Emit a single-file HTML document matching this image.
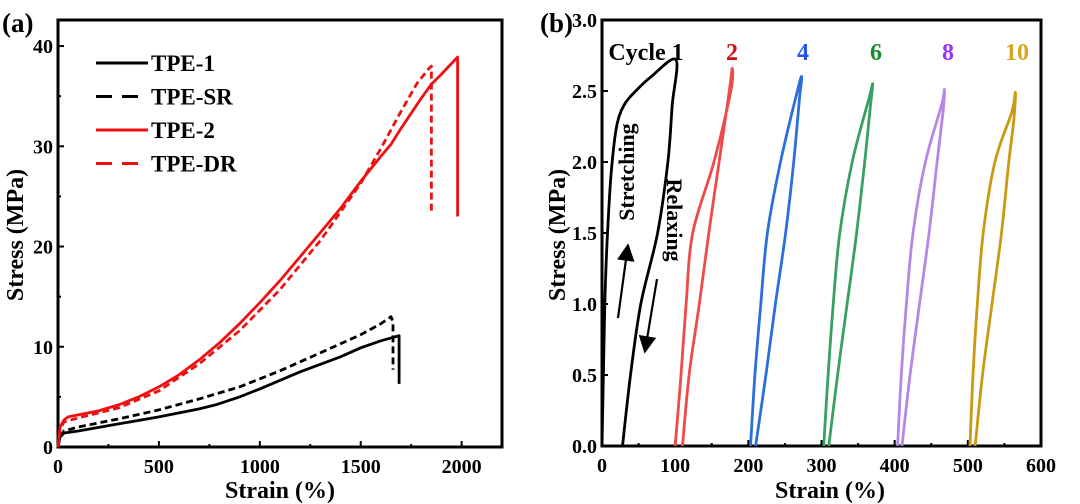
<!DOCTYPE html>
<html><head><meta charset="utf-8"><style>
html,body{margin:0;padding:0;background:#fff}
svg{display:block;font-family:"Liberation Serif",serif;font-weight:bold}
</style></head><body>
<svg id="s" width="1080" height="504" viewBox="0 0 1080 504" xmlns="http://www.w3.org/2000/svg">
<text x="2" y="32" font-size="27">(a)</text>
<text x="540" y="32" font-size="27">(b)</text>
<g id="pa"></g>
<g id="pb"></g>
</svg>
<script>
// ---- Panel A data ----
const aXTicks=[0,500,1000,1500,2000];
const aYTicks=[0,10,20,30,40];
const tpe1X=[0,10,30,100,300,500,700,780,900,1000,1200,1400,1500,1600,1690,1690];
const tpe1Y=[0,1,1.4,1.6,2.3,3,3.8,4.2,5,5.8,7.5,9,9.9,10.6,11.1,6.3];
const tpeSRX=[0,10,30,100,300,500,700,900,1100,1300,1500,1600,1650,1660,1660];
const tpeSRY=[0,1.1,1.6,2,2.8,3.7,4.8,6,7.6,9.4,11.2,12.3,13,12.5,7.7];
const tpe2X=[0,10,30,50,100,200,300,400,500,600,700,800,900,1000,1100,1200,1300,1400,1500,1600,1650,1700,1800,1850,1900,1980,1980];
const tpe2Y=[0,2,2.7,3,3.2,3.6,4.2,5,6,7.2,8.7,10.4,12.3,14.4,16.6,19,21.4,23.8,26.5,29,30.2,31.8,34.8,36.2,37.2,38.9,23];
const tpeDRX=[0,10,30,100,300,500,700,900,1100,1300,1500,1600,1700,1780,1840,1850,1850,1850];
const tpeDRY=[0,1.8,2.5,2.9,3.9,5.6,8.3,11.6,15.7,20.6,26.3,29.8,33.5,36.3,37.8,38,36,23.5];
const legendNames=["TPE-1","TPE-SR","TPE-2","TPE-DR"];
// ---- Panel B data ----
const bXTicks=[0,100,200,300,400,500,600];
const bYTicks=[0.0,0.5,1.0,1.5,2.0,2.5,3.0];
const cycleNames=["Cycle 1","2","4","6","8","10"];
const c1X=[0,3,5,8,13,20,30,46,67,101,96,90,76,53,39,28];
const c1Y=[0,0.8,1.2,1.55,1.95,2.25,2.4,2.5,2.6,2.72,2.4,2.0,1.5,1.0,0.5,0];
const c2X=[100,108,115,124,153,176,178,174,160,146,133,119,110];
const c2Y=[0,0.5,1.0,1.5,2.0,2.5,2.66,2.5,2.0,1.5,1.0,0.5,0];
const c4X=[203,209,217,226,244,267,273,270,262,251,237,224,210];
const c4Y=[0,0.5,1.0,1.5,2.0,2.5,2.6,2.45,2.0,1.5,1.0,0.5,0];
const c6X=[303,309,316,325,342,365,370,367,359,348,335,322,310];
const c6Y=[0,0.5,1.0,1.5,2.0,2.45,2.55,2.4,2.0,1.5,1.0,0.5,0];
const c8X=[404,409,416,425,442,464,468,466,458,447,434,421,410];
const c8Y=[0,0.5,1.0,1.5,2.0,2.4,2.51,2.35,2.0,1.5,1.0,0.5,0];
const c10X=[503,507,513,521,537,560,565,563,556,546,533,520,510];
const c10Y=[0,0.5,1.0,1.5,2.0,2.35,2.49,2.3,2.0,1.5,1.0,0.5,0];

const NS="http://www.w3.org/2000/svg";
function mk(tag,attrs,parent,txt){const e=document.createElementNS(NS,tag);for(const k in attrs)e.setAttribute(k,attrs[k]);if(txt!==undefined)e.textContent=txt;parent.appendChild(e);return e;}
function lin(d0,d1,r0,r1){return v=>r0+(v-d0)/(d1-d0)*(r1-r0);}
function pts(xs,ys,sx,sy){return xs.map((x,i)=>sx(x).toFixed(1)+","+sy(ys[i]).toFixed(1)).join(" ");}
function smooth(xs,ys,sx,sy){
  const P=xs.map((x,i)=>[sx(x),sy(ys[i])]);
  let d="M"+P[0][0].toFixed(1)+","+P[0][1].toFixed(1);
  for(let i=0;i<P.length-1;i++){
    const p0=P[Math.max(0,i-1)],p1=P[i],p2=P[i+1],p3=P[Math.min(P.length-1,i+2)];
    const k=1/6;
    const c1=[p1[0]+(p2[0]-p0[0])*k,p1[1]+(p2[1]-p0[1])*k];
    const c2=[p2[0]-(p3[0]-p1[0])*k,p2[1]-(p3[1]-p1[1])*k];
    d+=" C"+c1[0].toFixed(1)+","+c1[1].toFixed(1)+" "+c2[0].toFixed(1)+","+c2[1].toFixed(1)+" "+p2[0].toFixed(1)+","+p2[1].toFixed(1);
  }
  return d;
}

// ---------- Panel A ----------
const pa=document.getElementById('pa');
const ax=lin(0,2200,58,502), ay=lin(0,42.6,447,20);
function axesFrame(g,L,T,R,B,xt,yt,sx,sy,xminor,yminor,fmtY,pre){
  let f=mk('rect',{x:L,y:T,width:R-L,height:B-T,fill:'none',stroke:'#000','stroke-width':3},g);
  
  xt.forEach(v=>{const x=sx(v);
    let t=mk('line',{x1:x,y1:B,x2:x,y2:B-6,stroke:'#000','stroke-width':2},g);
    
    let l=mk('text',{x:x,y:B+26,'font-size':20,'text-anchor':'middle'},g,String(v));
    });
  xminor.forEach(v=>{const x=sx(v);let t=mk('line',{x1:x,y1:B,x2:x,y2:B-3,stroke:'#000','stroke-width':2},g);
    });
  yt.forEach(v=>{const y=sy(v);
    let t=mk('line',{x1:L,y1:y,x2:L+6,y2:y,stroke:'#000','stroke-width':2},g);
    
    let l=mk('text',{x:L-5,y:y+7,'font-size':20,'text-anchor':'end'},g,fmtY(v));
    });
  yminor.forEach(v=>{const y=sy(v);let t=mk('line',{x1:L,y1:y,x2:L+3,y2:y,stroke:'#000','stroke-width':2},g);
    });
}
axesFrame(pa,58,20,502,447,aXTicks,aYTicks,ax,ay,[250,750,1250,1750],[5,15,25,35],v=>String(v),'a');
let t=mk('text',{x:280,y:498,'font-size':24,'text-anchor':'middle'},pa,'Strain (%)');

t=mk('text',{x:0,y:0,'font-size':24,'text-anchor':'middle',transform:'translate(23,235) rotate(-90)'},pa,'Stress (MPa)');

const aSeries=[[tpe1X,tpe1Y,'#000',''],[tpeSRX,tpeSRY,'#000','7,4'],[tpe2X,tpe2Y,'#ee1111',''],[tpeDRX,tpeDRY,'#ee1111','7,4']];
aSeries.forEach((s,i)=>{
  let p=mk('polyline',{points:pts(s[0],s[1],ax,ay),fill:'none',stroke:s[2],'stroke-width':2.8,'stroke-dasharray':s[3],'stroke-linejoin':'round'},pa);
  
  const ly=63+i*33.5;
  let ll=mk('line',{x1:96,y1:ly,x2:148,y2:ly,stroke:s[2],'stroke-width':3,'stroke-dasharray':s[3]?'16,10':''},pa);
  
  let lt=mk('text',{x:151,y:ly+8,'font-size':23},pa,legendNames[i]);
  
});

// ---------- Panel B ----------
const pb=document.getElementById('pb');
const bx=lin(0,600,602,1041), by=lin(0,3,446,20);
axesFrame(pb,602,20,1041,446,bXTicks,bYTicks,bx,by,[50,150,250,350,450,550],[],v=>v.toFixed(1),'b');
t=mk('text',{x:830,y:498,'font-size':24,'text-anchor':'middle'},pb,'Strain (%)');

t=mk('text',{x:0,y:0,'font-size':24,'text-anchor':'middle',transform:'translate(565,235) rotate(-90)'},pb,'Stress (MPa)');

const bSeries=[[c1X,c1Y,'#000','#000'],[c2X,c2Y,'#ee4a4a','#cc1111'],[c4X,c4Y,'#2a6fdb','#2255ee'],[c6X,c6Y,'#38a060','#1a8a2a'],[c8X,c8Y,'#b488e4','#9933ff'],[c10X,c10Y,'#c99a12','#d9a520']];
const labelX=[646,732,803,876,948,1017];
bSeries.forEach((s,i)=>{
  let p=mk('path',{d:smooth(s[0],s[1],bx,by),fill:'none',stroke:s[2],'stroke-width':2.8,'stroke-linejoin':'round'},pb);
  
  let l=mk('text',{x:labelX[i],y:60,'font-size':24,'text-anchor':'middle',fill:s[3]},pb,cycleNames[i]);
  
});
t=mk('text',{x:0,y:0,'font-size':22,'text-anchor':'middle',transform:'translate(634,172) rotate(-90)'},pb,'Stretching');

t=mk('text',{x:0,y:0,'font-size':22,'text-anchor':'middle',transform:'translate(667,220) rotate(90)'},pb,'Relaxing');

mk('defs',{},pb).innerHTML='<marker id="ah" markerWidth="8" markerHeight="8" refX="4" refY="4" orient="auto"><path d="M0,0 L8,4 L0,8 z" fill="#000"/></marker>';
t=mk('line',{x1:618,y1:318,x2:627,y2:252,stroke:'#000','stroke-width':2.2,'marker-end':'url(#ah)'},pb);

t=mk('line',{x1:657,y1:279,x2:646,y2:345,stroke:'#000','stroke-width':2.2,'marker-end':'url(#ah)'},pb);

</script>
</body></html>
